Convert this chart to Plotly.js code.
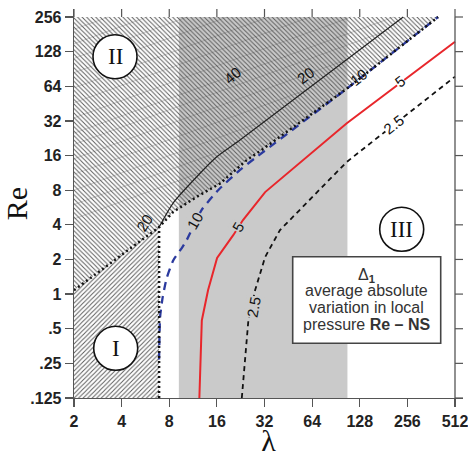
<!DOCTYPE html>
<html>
<head>
<meta charset="utf-8">
<script src="https://cdn.plot.ly/plotly-3.0.1.min.js"></script>
<style>
  html, body { margin: 0; padding: 0; background: #fff; }
  #chart { width: 468px; height: 457px; }
</style>
</head>
<body>
<div id="chart"></div>
<script>
// Axis ticks
const lambdaTicks = [2, 4, 8, 16, 32, 64, 128, 256, 512];
const lambdaTickText = ['2', '4', '8', '16', '32', '64', '128', '256', '512'];
const reTicks = [0.125, 0.25, 0.5, 1, 2, 4, 8, 16, 32, 64, 128, 256];
const reTickText = ['.125', '.25', '.5', '1', '2', '4', '8', '16', '32', '64', '128', '256'];
const lamMin = 2, lamMax = 512, reMin = 0.125, reMax = 256;

// Shaded band of lambda
const bandLam = [9.2, 107];

// Boundary of regions I / II (dotted)
const edgeLam = [2, 6.9, 8.49, 11.94, 16.8, 24.7, 30, 106, 400];
const edgeRe = [1.08, 3.82, 5.19, 7.0, 9.17, 14.6, 17.5, 61, 256];
const wallLam = [6.9, 6.9];
const wallRe = [0.125, 3.82];

// Contours of Delta_1
const c20Lam = [6.9, 8.46, 11.94, 15.98, 22.4, 241];
const c20Re = [3.82, 6.18, 10.46, 15.6, 21.8, 256];
const c10Lam = [6.9, 7.0, 7.28, 7.71, 8.49, 9.6, 10.3, 12.8, 16.3, 22.4, 28.6, 106, 400];
const c10Re = [0.27, 0.63, 0.95, 1.38, 1.97, 2.51, 2.94, 5.37, 8.0, 12.0, 15.6, 61, 256];
const c5Lam = [12.4, 12.85, 14.07, 16.05, 20.3, 23.4, 32.3, 106, 512];
const c5Re = [0.125, 0.59, 1.08, 2.06, 3.25, 4.4, 7.7, 30.5, 156];
const c25Lam = [23.0, 25.3, 27.9, 32.3, 40.1, 106, 512];
const c25Re = [0.125, 0.59, 1.08, 2.1, 3.6, 14.1, 77.6];

// Faint contours inside region II (start on lambda = 2)
const faintStartRe = [4.5, 6, 8, 11, 15, 20, 25, 34, 46, 62, 84, 112, 150, 200];
const faintEndLam = [12.7, 18, 32, 60, 112, 185, 210, 113, 62, 34, 18.6, 10.4, 5.8, 3.3];
const faintEndRe = [11.4, 18, 32, 60, 112, 192, 256, 256, 256, 256, 256, 256, 256, 256];

// Contour labels
const labelText = ['40', '20', '10', '5', '2.5', '20', '10', '5', '2.5'];
const labelLam = [20, 58, 125, 230, 209, 5.6, 11.6, 21.9, 27.2];
const labelRe = [80, 80, 77, 70, 30, 4.2, 4.4, 3.84, 0.77];
const labelAngle = [-40, -37, -38, -37, -38, -58, -60, -60, -80];
const labelBg = [null, null, null, '#ffffff', '#ffffff', null, '#cacaca', '#cacaca', '#cacaca'];

// Region markers (centres in page pixels)
const regionText = ['I', 'II', 'III'];
const regionPx = [115.7, 115, 401.7];
const regionPy = [348.3, 56.7, 229.3];
const REGION_R = 22;

const legendLines = ['\u0394<sub><b>1</b></sub>', 'average absolute', 'variation in local', 'pressure <b>Re \u2013 NS</b>'];
const legendPy = [275.3, 290.6, 307.3, 324.5];
const legendBox = {left: 292.7, right: 440.7, top: 256.7, bottom: 343.3};

// Geometry: the frame spans 381 px each way; 8 px more on top and right hold the outer ticks
const W = 468, H = 457, TICK_LEN = 8, FRAME = 381;
const M = {l: 74, r: W - 74 - FRAME - TICK_LEN, t: H - 59 - FRAME - TICK_LEN, b: 59};
const PW = W - M.l - M.r, PH = H - M.t - M.b;
const paperX = px => (px - M.l) / PW;
const paperY = py => (H - M.b - py) / PH;
const xSpan = Math.log10(lamMax / lamMin), ySpan = Math.log10(reMax / reMin);
const xRange = [Math.log10(lamMin), Math.log10(lamMax) + TICK_LEN / FRAME * xSpan];
const yRange = [Math.log10(reMin), Math.log10(reMax) + TICK_LEN / FRAME * ySpan];

const GRAY = '#cacaca';
const AXIS = '#555';

const faintX = [], faintY = [];
faintStartRe.forEach((r, i) => {
  faintX.push(2, faintEndLam[i], null);
  faintY.push(r, faintEndRe[i], null);
});

// outer tick marks on the top and right edges
const topTickX = [], topTickY = [], rightTickX = [], rightTickY = [];
lambdaTicks.forEach(v => { topTickX.push(v, v, null); topTickY.push(reMax, Math.pow(10, yRange[1]), null); });
reTicks.forEach(v => { rightTickX.push(lamMax, Math.pow(10, xRange[1]), null); rightTickY.push(v, v, null); });

const hatch = (shape) => ({shape: shape, fgcolor: '#5a5a5a', bgcolor: 'rgba(0,0,0,0)', size: 3.2, solidity: 0.3});

const traces = [
  // region I
  {
    x: [edgeLam[0], wallLam[0], wallLam[1], edgeLam[0]],
    y: [wallRe[0], wallRe[0], wallRe[1], edgeRe[0]],
    mode: 'lines', line: {width: 0}, fill: 'toself',
    fillcolor: 'rgba(0,0,0,0)', fillpattern: hatch('/'), hoverinfo: 'skip'
  },
  // region II
  {
    x: edgeLam.concat([lamMin]),
    y: edgeRe.concat([reMax]),
    mode: 'lines', line: {width: 0}, fill: 'toself',
    fillcolor: 'rgba(0,0,0,0)', fillpattern: hatch('\\'), hoverinfo: 'skip'
  },
  // faint contours in region II
  {x: faintX, y: faintY, mode: 'lines', line: {color: 'rgba(70,70,70,0.3)', width: 0.8}, connectgaps: false, hoverinfo: 'skip'},
  // contour 20
  {x: c20Lam, y: c20Re, mode: 'lines', line: {color: '#222', width: 1.2, shape: 'spline', smoothing: 0.6}, hoverinfo: 'skip'},
  // contour 10
  {x: c10Lam, y: c10Re, mode: 'lines', line: {color: '#2b3a9e', width: 2.3, dash: '8px,6px', shape: 'spline', smoothing: 0.5}, hoverinfo: 'skip'},
  // contour 5
  {x: c5Lam, y: c5Re, mode: 'lines', line: {color: '#e8262b', width: 2}, hoverinfo: 'skip'},
  // contour 2.5
  {x: c25Lam, y: c25Re, mode: 'lines', line: {color: '#111', width: 1.8, dash: '5px,4px'}, hoverinfo: 'skip'},
  // region boundaries (dotted)
  {x: edgeLam, y: edgeRe, mode: 'lines', line: {color: '#111', width: 2.5, dash: '2px,3px'}, hoverinfo: 'skip'},
  {x: wallLam, y: wallRe, mode: 'lines', line: {color: '#111', width: 2.5, dash: '2px,3px'}, hoverinfo: 'skip'},
  // right frame line
  {x: [lamMax, lamMax], y: [reMin, reMax], mode: 'lines', line: {color: AXIS, width: 1.3}, hoverinfo: 'skip'},
  // outer ticks
  {x: topTickX, y: topTickY, mode: 'lines', line: {color: AXIS, width: 1.2}, connectgaps: false, hoverinfo: 'skip'},
  {x: rightTickX, y: rightTickY, mode: 'lines', line: {color: AXIS, width: 1.2}, connectgaps: false, hoverinfo: 'skip'}
];

const annotations = [];
labelText.forEach((t, i) => {
  const a = {
    x: Math.log10(labelLam[i]), y: Math.log10(labelRe[i]), xref: 'x', yref: 'y',
    xanchor: 'center', yanchor: 'middle',
    text: t, showarrow: false, textangle: labelAngle[i],
    font: {family: 'Liberation Sans, Arial, sans-serif', size: 15, color: '#111'},
    borderpad: 0
  };
  if (labelBg[i]) a.bgcolor = labelBg[i];
  annotations.push(a);
});
regionText.forEach((t, i) => {
  annotations.push({
    x: paperX(regionPx[i]), y: paperY(regionPy[i]), xref: 'paper', yref: 'paper',
    xanchor: 'center', yanchor: 'middle',
    text: t, showarrow: false,
    font: {family: 'Liberation Serif, Times New Roman, serif', size: 23, color: '#111'}
  });
});
legendLines.forEach((t, i) => {
  annotations.push({
    x: paperX((legendBox.left + legendBox.right) / 2), y: paperY(legendPy[i]), xref: 'paper', yref: 'paper',
    xanchor: 'center', yanchor: 'middle',
    text: t, showarrow: false,
    font: {family: 'Liberation Sans, Arial, sans-serif', size: 16, color: '#333'}
  });
});

const circle = (i) => ({
  type: 'circle', xref: 'paper', yref: 'paper',
  x0: paperX(regionPx[i] - REGION_R), x1: paperX(regionPx[i] + REGION_R),
  y0: paperY(regionPy[i] + REGION_R), y1: paperY(regionPy[i] - REGION_R),
  fillcolor: '#ffffff', line: {color: '#111', width: 1.6}, layer: 'above'
});

const shapes = [
  {type: 'rect', xref: 'x', yref: 'y', x0: bandLam[0], x1: bandLam[1], y0: reMin, y1: reMax,
   fillcolor: GRAY, line: {width: 0}, layer: 'below'},
  circle(0), circle(1), circle(2),
  {type: 'rect', xref: 'paper', yref: 'paper',
   x0: paperX(legendBox.left), x1: paperX(legendBox.right),
   y0: paperY(legendBox.bottom), y1: paperY(legendBox.top),
   fillcolor: '#ffffff', line: {color: '#444', width: 1.6}, layer: 'above'}
];

const tickFont = {family: 'Liberation Sans, Arial, sans-serif', size: 16, color: '#222', weight: 'bold'};

const layout = {
  width: W, height: H,
  margin: M,
  paper_bgcolor: '#ffffff', plot_bgcolor: '#ffffff',
  showlegend: false,
  xaxis: {
    type: 'log', range: xRange,
    tickvals: lambdaTicks, ticktext: lambdaTickText,
    ticks: 'outside', ticklen: TICK_LEN, tickwidth: 1.2, tickcolor: AXIS,
    showline: true, linecolor: AXIS, linewidth: 1.3,
    showgrid: false, zeroline: false,
    ticklabeloverflow: 'allow',
    tickfont: tickFont,
    title: {text: '\u03bb', font: {family: 'Liberation Serif, Times New Roman, serif', size: 30, color: '#111'}, standoff: 2}
  },
  yaxis: {
    type: 'log', range: yRange,
    tickvals: reTicks, ticktext: reTickText,
    ticks: 'outside', ticklen: TICK_LEN, tickwidth: 1.2, tickcolor: AXIS,
    showline: true, linecolor: AXIS, linewidth: 1.3,
    showgrid: false, zeroline: false,
    ticklabeloverflow: 'allow',
    tickfont: tickFont,
    title: {text: 'Re', font: {family: 'Liberation Serif, Times New Roman, serif', size: 30, color: '#111'}, standoff: 4}
  },
  shapes: shapes,
  annotations: annotations
};

Plotly.newPlot('chart', traces, layout, {staticPlot: true, displayModeBar: false});
</script>
</body>
</html>
